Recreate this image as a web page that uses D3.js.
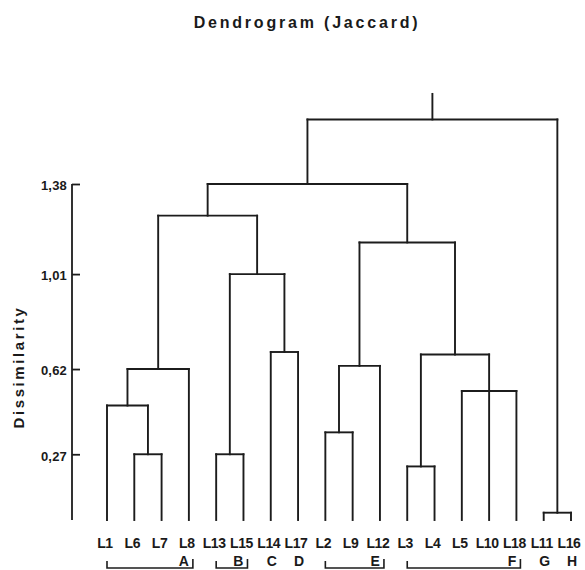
<!DOCTYPE html>
<html>
<head>
<meta charset="utf-8">
<script src="https://cdn.jsdelivr.net/npm/d3@7"></script>
<style>
  html, body { margin: 0; padding: 0; background: #fff; }
  svg { display: block; }
  text { font-family: "Liberation Sans", Arial, sans-serif; fill: #1a1a1a; }
</style>
</head>
<body>
<svg id="chart" width="585" height="570"></svg>
<script>
// Leaf order along the bottom
const leaves = ["L1","L6","L7","L8","L13","L15","L14","L17","L2","L9","L12","L3","L4","L5","L10","L18","L11","L16"];

// Merges: [id, children, dissimilarity]
const merges = [
  ["n67",   ["L6","L7"],          0.27],
  ["n1315", ["L13","L15"],        0.27],
  ["n34",   ["L3","L4"],          0.22],
  ["n1116", ["L11","L16"],        0.03],
  ["n29",   ["L2","L9"],          0.36],
  ["n167",  ["L1","n67"],         0.47],
  ["n51018",["L5","L10","L18"],   0.53],
  ["nA",    ["n167","L8"],        0.62],
  ["nE",    ["n29","L12"],        0.633],
  ["nF",    ["n34","n51018"],     0.68],
  ["nCD",   ["L14","L17"],        0.69],
  ["nBCD",  ["n1315","nCD"],      1.01],
  ["nEF",   ["nE","nF"],          1.14],
  ["nABCD", ["nA","nBCD"],        1.25],
  ["nAF",   ["nABCD","nEF"],      1.38],
  ["root",  ["nAF","n1116"],      1.645]
];
const rootStemTop = 1.75;

// Axis ticks
const tickValues = [0.27, 0.62, 1.01, 1.38];

// Group brackets under the leaves
const groupLabels = ["A","B","C","D","E","F","G","H"];
const groupFirst  = ["L1","L13","L14","L17","L2","L3","L11","L16"];
const groupLast   = ["L8","L15","L14","L17","L12","L18","L11","L16"];

const svg = d3.select("#chart");

const x = d3.scalePoint().domain(leaves).range([107, 571]);
const y = d3.scaleLinear().domain([0, 1.38]).range([520, 184]);

// Position every node
const pos = {};
leaves.forEach(l => { pos[l] = { x: x(l), h: 0 }; });
merges.forEach(([id, kids, h]) => {
  const xs = kids.map(k => pos[k].x);
  pos[id] = { x: (d3.min(xs) + d3.max(xs)) / 2, h: h, kids: kids };
});

const lineColor = "#1c1c1c";
const g = svg.append("g")
  .attr("fill", "none")
  .attr("stroke", lineColor)
  .attr("stroke-width", 1.9)
  .attr("stroke-linecap", "square");

merges.forEach(([id, kids, h]) => {
  const xs = kids.map(k => pos[k].x);
  // horizontal bar
  g.append("line")
    .attr("x1", d3.min(xs)).attr("x2", d3.max(xs))
    .attr("y1", y(h)).attr("y2", y(h));
  // vertical links to each child
  kids.forEach(k => {
    g.append("line")
      .attr("x1", pos[k].x).attr("x2", pos[k].x)
      .attr("y1", y(pos[k].h)).attr("y2", y(h));
  });
});
// stem above the root
g.append("line")
  .attr("x1", pos.root.x).attr("x2", pos.root.x)
  .attr("y1", y(pos.root.h)).attr("y2", y(rootStemTop));

// Y axis with comma decimals
const fmt = d3.formatLocale({ decimal: ",", thousands: ".", grouping: [3], currency: ["", ""] }).format(".2f");
const axis = d3.axisLeft(y)
  .tickValues(tickValues)
  .tickFormat(fmt)
  .tickSizeInner(-8)
  .tickSizeOuter(0)
  .tickPadding(5);

const axG = svg.append("g")
  .attr("transform", "translate(72,0)")
  .call(axis);
axG.select(".domain")
  .attr("d", `M0,${y(1.38)}V${y(0)}`)
  .attr("stroke", lineColor).attr("stroke-width", 1.8);
axG.selectAll(".tick line").attr("stroke", lineColor).attr("stroke-width", 1.8);
axG.selectAll(".tick text")
  .attr("fill", "#1a1a1a")
  .style("font-family", "'Liberation Sans', Arial, sans-serif")
  .style("font-size", "13px")
  .style("font-weight", "bold")
  .style("letter-spacing", "0.2px")
  .attr("dy", "0.45em");

// Title
svg.append("text")
  .attr("x", 307).attr("y", 28)
  .attr("text-anchor", "middle")
  .style("font-size", "16px")
  .style("font-weight", "bold")
  .style("letter-spacing", "2.8px")
  .text("Dendrogram (Jaccard)");

// Y axis title
svg.append("text")
  .attr("transform", "translate(24,367) rotate(-90)")
  .attr("text-anchor", "middle")
  .style("font-size", "15px")
  .style("font-weight", "bold")
  .style("letter-spacing", "2.6px")
  .text("Dissimilarity");

// Leaf labels
svg.append("g").selectAll("text")
  .data(leaves)
  .join("text")
  .attr("x", d => x(d) - 2)
  .attr("y", 548)
  .attr("text-anchor", "middle")
  .style("font-size", "14px")
  .style("font-weight", "bold")
  .style("letter-spacing", "-0.4px")
  .text(d => d);

// Group letters and brackets
const bg = svg.append("g");
groupLabels.forEach((lab, i) => {
  const x0 = x(groupFirst[i]), x1 = x(groupLast[i]);
  if (groupFirst[i] === groupLast[i]) {
    bg.append("text")
      .attr("x", x0 + 1).attr("y", 566)
      .attr("text-anchor", "middle")
      .style("font-size", "14px")
      .style("font-weight", "bold")
      .text(lab);
  } else {
    const right = x1 + 4;
    bg.append("path")
      .attr("d", `M${x0},561V568H${right}V559`)
      .attr("fill", "none")
      .attr("stroke", lineColor)
      .attr("stroke-width", 1.6);
    bg.append("text")
      .attr("x", right - 4).attr("y", 566)
      .attr("text-anchor", "end")
      .style("font-size", "14px")
      .style("font-weight", "bold")
      .text(lab);
  }
});
</script>
</body>
</html>
